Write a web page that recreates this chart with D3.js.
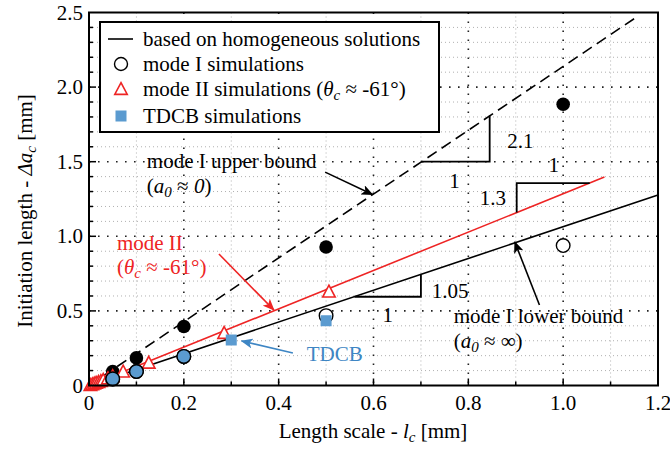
<!DOCTYPE html>
<html><head><meta charset="utf-8">
<script src="https://cdn.jsdelivr.net/npm/d3@7"></script>
<style>body{margin:0;background:#fff;}</style></head>
<body><svg id="c" width="670" height="449" font-family="Liberation Serif"></svg>
<script>
// ---- data ----
const xTickValues = [0, 0.2, 0.4, 0.6, 0.8, 1.0, 1.2];
const xTickLabels = ["0", "0.2", "0.4", "0.6", "0.8", "1.0", "1.2"];
const yTickValues = [0, 0.5, 1.0, 1.5, 2.0, 2.5];
const yTickLabels = ["0", "0.5", "1.0", "1.5", "2.0", "2.5"];

// homogeneous-solution lines (x, y endpoints)
const upperLineX = [0, 1.155], upperLineY = [0, 2.47];
const modeIILineX = [0, 1.087], modeIILineY = [0, 1.397];
const lowerLineX = [0, 1.2], lowerLineY = [0, 1.277];

// mode I simulations (upper bound, filled)
const modeIUpperX = [0.05, 0.1, 0.2, 0.5, 1.0];
const modeIUpperY = [0.093, 0.185, 0.395, 0.928, 1.885];
// mode I simulations (lower bound, open)
const modeILowerX = [0.05, 0.1, 0.2, 0.5, 1.0];
const modeILowerY = [0.044, 0.094, 0.195, 0.468, 0.938];
// mode II simulations
const modeIIX = [0.003, 0.007, 0.011, 0.015, 0.02, 0.025, 0.03, 0.04, 0.05, 0.072, 0.126, 0.285, 0.506];
const modeIIY = [0.003, 0.008, 0.013, 0.018, 0.024, 0.030, 0.037, 0.048, 0.062, 0.093, 0.153, 0.352, 0.629];
// TDCB simulations
const tdcbX = [0.05, 0.1, 0.2, 0.3, 0.5];
const tdcbY = [0.044, 0.094, 0.195, 0.305, 0.434];

// slope triangles: [x0, y0, x1, y1, x2, y2]
const slopeUpper = [0.7, 1.5, 0.845, 1.5, 0.845, 1.81];
const slopeModeII = [0.902, 1.159, 0.902, 1.357, 1.056, 1.357];
const slopeLower = [0.56, 0.595, 0.7, 0.595, 0.7, 0.742];

// ---- layout ----
const FONT = "Liberation Serif";
const svg = d3.select("#c");
const L = 89, R = 658, T = 12.5, B = 385.5;
const x = d3.scaleLinear().domain([0, 1.2]).range([L, R]);
const y = d3.scaleLinear().domain([0, 2.5]).range([B, T]);
const RED = "#ee2424", BLUE = "#5b9bd0", BLUET = "#3e86c4";
const FS = 21;

// grid
const minorX = d3.range(1, 12).map(i => i / 10).filter(v => Math.abs(v * 5 - Math.round(v * 5)) > 1e-6);
const minorY = d3.range(1, 25).map(i => i / 10).filter(v => Math.abs(v * 2 - Math.round(v * 2)) > 1e-6);
const g = svg.append("g");
g.selectAll(".mx").data(minorX).join("line")
  .attr("x1", d => x(d)).attr("x2", d => x(d)).attr("y1", T).attr("y2", B)
  .attr("stroke", "#b0b0b0").attr("stroke-width", 1).attr("stroke-dasharray", "1,3");
g.selectAll(".my").data(minorY).join("line")
  .attr("y1", d => y(d)).attr("y2", d => y(d)).attr("x1", L).attr("x2", R)
  .attr("stroke", "#b0b0b0").attr("stroke-width", 1).attr("stroke-dasharray", "1,3");
g.selectAll(".Mx").data(xTickValues.slice(1, -1)).join("line")
  .attr("x1", d => x(d)).attr("x2", d => x(d)).attr("y1", T).attr("y2", B)
  .attr("stroke", "#222").attr("stroke-width", 1.6).attr("stroke-dasharray", "1.6,7.4");
g.selectAll(".My").data(yTickValues.slice(1, -1)).join("line")
  .attr("y1", d => y(d)).attr("y2", d => y(d)).attr("x1", L).attr("x2", R)
  .attr("stroke", "#222").attr("stroke-width", 1.6).attr("stroke-dasharray", "1.6,7.4");

// ticks
const tk = svg.append("g").attr("stroke", "#000").attr("stroke-width", 1.5);
tk.selectAll(".tx").data(d3.range(1, 12).map(i => i / 10)).join("line")
  .attr("x1", d => x(d)).attr("x2", d => x(d)).attr("y1", B)
  .attr("y2", d => B - (minorX.includes(d) ? 4 : 7));
tk.selectAll(".ty").data(d3.range(1, 25).map(i => i / 10)).join("line")
  .attr("y1", d => y(d)).attr("y2", d => y(d)).attr("x1", L)
  .attr("x2", d => L + (minorY.includes(d) ? 4 : 7));

// tick labels
svg.append("g").selectAll("text").data(xTickValues).join("text")
  .attr("x", d => x(d)).attr("y", 410).attr("text-anchor", "middle").attr("font-family", FONT)
  .attr("font-size", FS).text((d, i) => xTickLabels[i]);
svg.append("g").selectAll("text").data(yTickValues).join("text")
  .attr("x", 83).attr("y", d => y(d) + 7).attr("text-anchor", "end").attr("font-family", FONT)
  .attr("font-size", FS).text((d, i) => yTickLabels[i]);

// axis titles
const xt = svg.append("text").attr("x", 373).attr("y", 438).attr("text-anchor", "middle").attr("font-size", FS).attr("font-family", FONT);
xt.append("tspan").text("Length scale - ");
xt.append("tspan").attr("font-style", "italic").text("l");
xt.append("tspan").attr("font-style", "italic").attr("font-size", 15).attr("dy", 4).text("c");
xt.append("tspan").attr("dy", -4).text(" [mm]");
const yt = svg.append("text").attr("transform", "translate(32,211) rotate(-90)").attr("text-anchor", "middle").attr("font-size", FS).attr("font-family", FONT);
yt.append("tspan").text("Initiation length - ");
yt.append("tspan").attr("font-style", "italic").text("Δa");
yt.append("tspan").attr("font-style", "italic").attr("font-size", 15).attr("dy", 4).text("c");
yt.append("tspan").attr("dy", -4).text(" [mm]");

// lines
const line = d3.line().x(d => x(d[0])).y(d => y(d[1]));
const pairs = (xs, ys) => xs.map((v, i) => [v, ys[i]]);
svg.append("path").attr("d", line(pairs(upperLineX, upperLineY))).attr("fill", "none")
  .attr("stroke", "#000").attr("stroke-width", 1.6).attr("stroke-dasharray", "11,6");
svg.append("path").attr("d", line(pairs(modeIILineX, modeIILineY))).attr("fill", "none")
  .attr("stroke", RED).attr("stroke-width", 1.6);
svg.append("path").attr("d", line(pairs(lowerLineX, lowerLineY))).attr("fill", "none")
  .attr("stroke", "#000").attr("stroke-width", 1.6);

// slope triangles
[slopeUpper, slopeModeII, slopeLower].forEach(s => {
  svg.append("path").attr("d", line([[s[0], s[1]], [s[2], s[3]], [s[4], s[5]]]))
    .attr("fill", "none").attr("stroke", "#000").attr("stroke-width", 1.8);
});
const lab = (xv, yv, t, anchor, col) => svg.append("text").attr("x", x(xv)).attr("y", y(yv))
  .attr("text-anchor", anchor || "start").attr("font-size", FS).attr("font-family", FONT)
  .attr("fill", col || "#000").text(t);
lab(0.771, 1.323, "1", "middle");
lab(0.882, 1.59, "2.1");
lab(0.98, 1.43, "1", "middle");
lab(0.824, 1.21, "1.3");
lab(0.723, 0.587, "1.05");
lab(0.63, 0.425, "1", "middle");

// markers
const tri = (cx, cy, s) => {
  const h = s * Math.sqrt(3) / 2;
  return `M${cx},${cy - h / 2 - 1}L${cx + s / 2},${cy + h / 2}L${cx - s / 2},${cy + h / 2}Z`;
};
svg.append("g").selectAll("circle").data(pairs(modeIUpperX, modeIUpperY)).join("circle")
  .attr("cx", d => x(d[0])).attr("cy", d => y(d[1])).attr("r", 6.8).attr("fill", "#000");
svg.append("g").selectAll("path").data(pairs(modeIIX, modeIIY)).join("path")
  .attr("d", d => tri(x(d[0]), y(d[1]), 12.5)).attr("fill", "#fff").attr("stroke", RED).attr("stroke-width", 1.6);
svg.append("g").selectAll("circle").data(pairs(modeILowerX, modeILowerY)).join("circle")
  .attr("cx", d => x(d[0])).attr("cy", d => y(d[1])).attr("r", 6.8).attr("fill", "#fff")
  .attr("stroke", "#000").attr("stroke-width", 1.4);
const tdcb = pairs(tdcbX, tdcbY);
const onCircle = d => modeILowerX.some((v, i) => Math.abs(v - d[0]) < 1e-6 && Math.abs(modeILowerY[i] - d[1]) < 0.01);
svg.append("g").selectAll("circle").data(tdcb.filter(onCircle)).join("circle")
  .attr("cx", d => x(d[0])).attr("cy", d => y(d[1])).attr("r", 6.8).attr("fill", BLUE)
  .attr("stroke", "#000").attr("stroke-width", 1.4);
svg.append("g").selectAll("rect").data(tdcb.filter(d => !onCircle(d))).join("rect")
  .attr("x", d => x(d[0]) - 5.5).attr("y", d => y(d[1]) - 5.5).attr("width", 11).attr("height", 11)
  .attr("fill", BLUE);

// annotations with arrows
const defs = svg.append("defs");
const mk = (id, col) => defs.append("marker").attr("id", id).attr("viewBox", "0 0 12 10")
  .attr("refX", 11).attr("refY", 5).attr("markerWidth", 12).attr("markerHeight", 10)
  .attr("markerUnits", "userSpaceOnUse").attr("orient", "auto")
  .append("path").attr("d", "M0,0L12,5L0,10L3,5Z").attr("fill", col);
mk("ak", "#000"); mk("ar", RED); mk("ab", BLUET);
const arrow = (x1, y1, x2, y2, col, id) => svg.append("line")
  .attr("x1", x(x1)).attr("y1", y(y1)).attr("x2", x(x2)).attr("y2", y(y2))
  .attr("stroke", col).attr("stroke-width", 1.6).attr("marker-end", `url(#${id})`);
arrow(0.498, 1.43, 0.598, 1.28, "#000", "ak");
arrow(0.274, 0.881, 0.39, 0.506, RED, "ar");
arrow(0.43, 0.218, 0.322, 0.298, BLUET, "ab");
arrow(0.95, 0.54, 0.898, 0.962, "#000", "ak");

const rich = (sel, xx, yy, col, parts) => {
  const t = sel.append("text").attr("x", xx).attr("y", yy).attr("font-size", FS)
    .attr("font-family", FONT).attr("fill", col);
  parts.forEach(p => {
    const s = t.append("tspan").text(p[0]);
    if (p[1] === "i") s.attr("font-style", "italic");
    if (p[1] === "sub") s.attr("font-style", "italic").attr("font-size", 15).attr("dy", 4);
    if (p[2]) s.attr("dy", p[2]);
  });
  return t;
};
rich(svg, x(0.122), y(1.457), "#000", [["mode I upper bound"]]);
rich(svg, x(0.122), y(1.29), "#000", [["("], ["a", "i"], ["0", "sub"], [" ≈ ", null, -4], ["0", "i"], [")"]]);
rich(svg, x(0.059), y(0.908), RED, [["mode II"]]);
rich(svg, x(0.059), y(0.747), RED, [["("], ["θ", "i"], ["c", "sub"], [" ≈ -61°)", null, -4]]);
rich(svg, x(0.459), y(0.164), BLUET, [["TDCB"]]);
rich(svg, x(0.769), y(0.419), "#000", [["mode I lower bound"]]);
rich(svg, x(0.769), y(0.251), "#000", [["("], ["a", "i"], ["0", "sub"], [" ≈ ∞)", null, -4]]);

// frame
svg.append("rect").attr("x", L).attr("y", T).attr("width", R - L).attr("height", B - T)
  .attr("fill", "none").attr("stroke", "#000").attr("stroke-width", 2);

// legend
const lg = svg.append("g");
lg.append("rect").attr("x", 100).attr("y", 22).attr("width", 339).attr("height", 110)
  .attr("fill", "#fff").attr("stroke", "#000").attr("stroke-width", 2);
const rows = [39, 64, 89, 116];
lg.append("line").attr("x1", 108).attr("x2", 133).attr("y1", rows[0]).attr("y2", rows[0])
  .attr("stroke", "#000").attr("stroke-width", 1.6);
lg.append("circle").attr("cx", 121).attr("cy", rows[1]).attr("r", 6.5).attr("fill", "#fff")
  .attr("stroke", "#000").attr("stroke-width", 1.4);
lg.append("path").attr("d", tri(121, rows[2], 12.5)).attr("fill", "#fff").attr("stroke", RED).attr("stroke-width", 1.6);
lg.append("rect").attr("x", 115.5).attr("y", rows[3] - 5.5).attr("width", 11).attr("height", 11).attr("fill", BLUE);
rich(lg, 143, rows[0] + 7, "#000", [["based on homogeneous solutions"]]);
rich(lg, 143, rows[1] + 7, "#000", [["mode I simulations"]]);
rich(lg, 143, rows[2] + 7, "#000", [["mode II simulations ("], ["θ", "i"], ["c", "sub"], [" ≈ -61°)", null, -4]]);
rich(lg, 143, rows[3] + 7, "#000", [["TDCB simulations"]]);
</script>
</body></html>
